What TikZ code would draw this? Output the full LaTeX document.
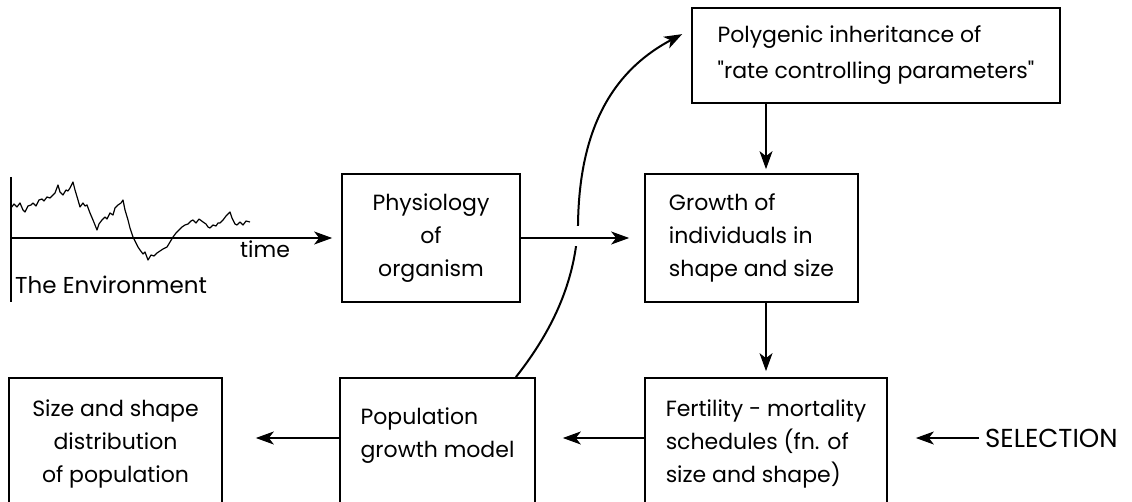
\documentclass[tikz,border=0pt]{standalone}
\usepackage{fontspec}
\setmainfont{Poppins}
\newfontfamily\rawpop{Poppins}
\usetikzlibrary{arrows.meta,calc}
\tikzset{
  box/.style={draw, line width=1.7pt, inner sep=0pt, font=\fontsize{22}{33}\selectfont},
  conn/.style={line width=1.6pt, -{Stealth[length=18pt,width=13pt,inset=5pt]}},
  lbl/.style={inner sep=0pt, font=\fontsize{22}{33}\selectfont},
}
\begin{document}
\begin{tikzpicture}[x=1pt,y=-1pt]
\useasboundingbox (0,0) rectangle (1132,502);
\clip (0,0) rectangle (1132,502);
% boxes
\node[box, minimum width=368, minimum height=95, align=left, font=\fontsize{22}{36}\selectfont] (poly) at (876,55.5)
  {Polygenic inheritance of\\{\rawpop"}rate controlling parameters{\rawpop"}};
\node[box, minimum width=178, minimum height=128, align=center] (phys) at (431,238) {Physiology\\of\\organism};
\node[box, minimum width=213, minimum height=128, align=left] (grow) at (751.5,238) {Growth of\\individuals in\\shape and size};
\node[box, minimum width=242, minimum height=132, align=left] (fert) at (766,444) {Fertility - mortality\\schedules (fn. of\\size and shape)};
\node[box, minimum width=195, minimum height=132, align=left, text depth=22pt] (pop) at (437.5,444) {Population\\growth model};
\node[box, minimum width=213, minimum height=132, align=center] (size) at (115.5,444) {Size and shape\\distribution\\of population};
\node[lbl, anchor=west, font=\fontsize{26}{30}\selectfont] (sel) at (985,438) {SELECTION};
% environment
\coordinate (axtop) at (11,177);
\coordinate (axbot) at (11,302);
\coordinate (origin) at (11,238);
\draw[line width=1.6pt] (axtop) -- (axbot);
\draw[line width=1.2pt, line join=round] plot coordinates {(11,208) (14,204) (17,207) (20,203) (23,210) (25,212) (28,206) (31,205) (33,203) (36,206) (39,200) (42,199) (44,201) (47,197) (50,198) (53,195) (55,193) (58,185) (60,192) (63,195) (66,190) (68,191) (70,188) (73,182) (75,190) (78,200) (80,207) (83,203) (85,206) (87,205) (90,213) (93,220) (95,225) (97,230) (99,224) (102,220) (105,217) (107,219) (110,213) (113,215) (115,208) (118,205) (121,203) (123,200) (125,210) (128,220) (130,228) (133,237) (136,243) (138,247) (140,250) (143,254) (145,252) (148,260) (151,255) (154,256) (157,253) (160,251) (163,249) (167,247) (170,242) (173,237) (176,233) (179,230) (182,227) (185,225) (188,224) (191,221) (193,220) (196,223) (199,219) (203,222) (206,224) (208,227) (210,228) (213,225) (216,226) (218,223) (220,223) (223,220) (226,216) (230,212) (232,218) (235,224) (237,225) (240,222) (243,225) (246,221) (250,222)};
\node[lbl, anchor=base west] (time) at (240,258) {time};
\node[lbl, anchor=base west, font=\fontsize{23}{30}\selectfont] (envlbl) at (15,294) {The Environment};
\draw[conn, shorten >=9pt] (origin) -- (origin -| phys.west);
% curved connector
\coordinate (cs) at ($(pop.north east)+(-20,0)$);
\coordinate (ce) at ($(poly.north west)+(-9,27)$);
\draw[conn, line width=2pt] (cs) .. controls (545,340) and (575,290) .. (578,225) .. controls (579,140) and (605,75) .. (ce);
\fill[white] (568,226) rectangle (590,246);
% straight connectors
\draw[conn, shorten >=15pt] (phys.east) -- (grow.west);
\draw[conn, shorten >=4pt] (poly.south -| fert.north) -- (grow.north -| fert.north);
\draw[conn, shorten >=6pt] (grow.south -| fert.north) -- (fert.north);
\draw[conn, shorten >=27pt] (fert.west |- sel.west) -- (pop.east |- sel.west);
\draw[conn, shorten >=33pt] (pop.west |- sel.west) -- (size.east |- sel.west);
\draw[conn, shorten >=28pt, shorten <=6pt] (sel.west) -- (fert.east |- sel.west);
\end{tikzpicture}
\end{document}
